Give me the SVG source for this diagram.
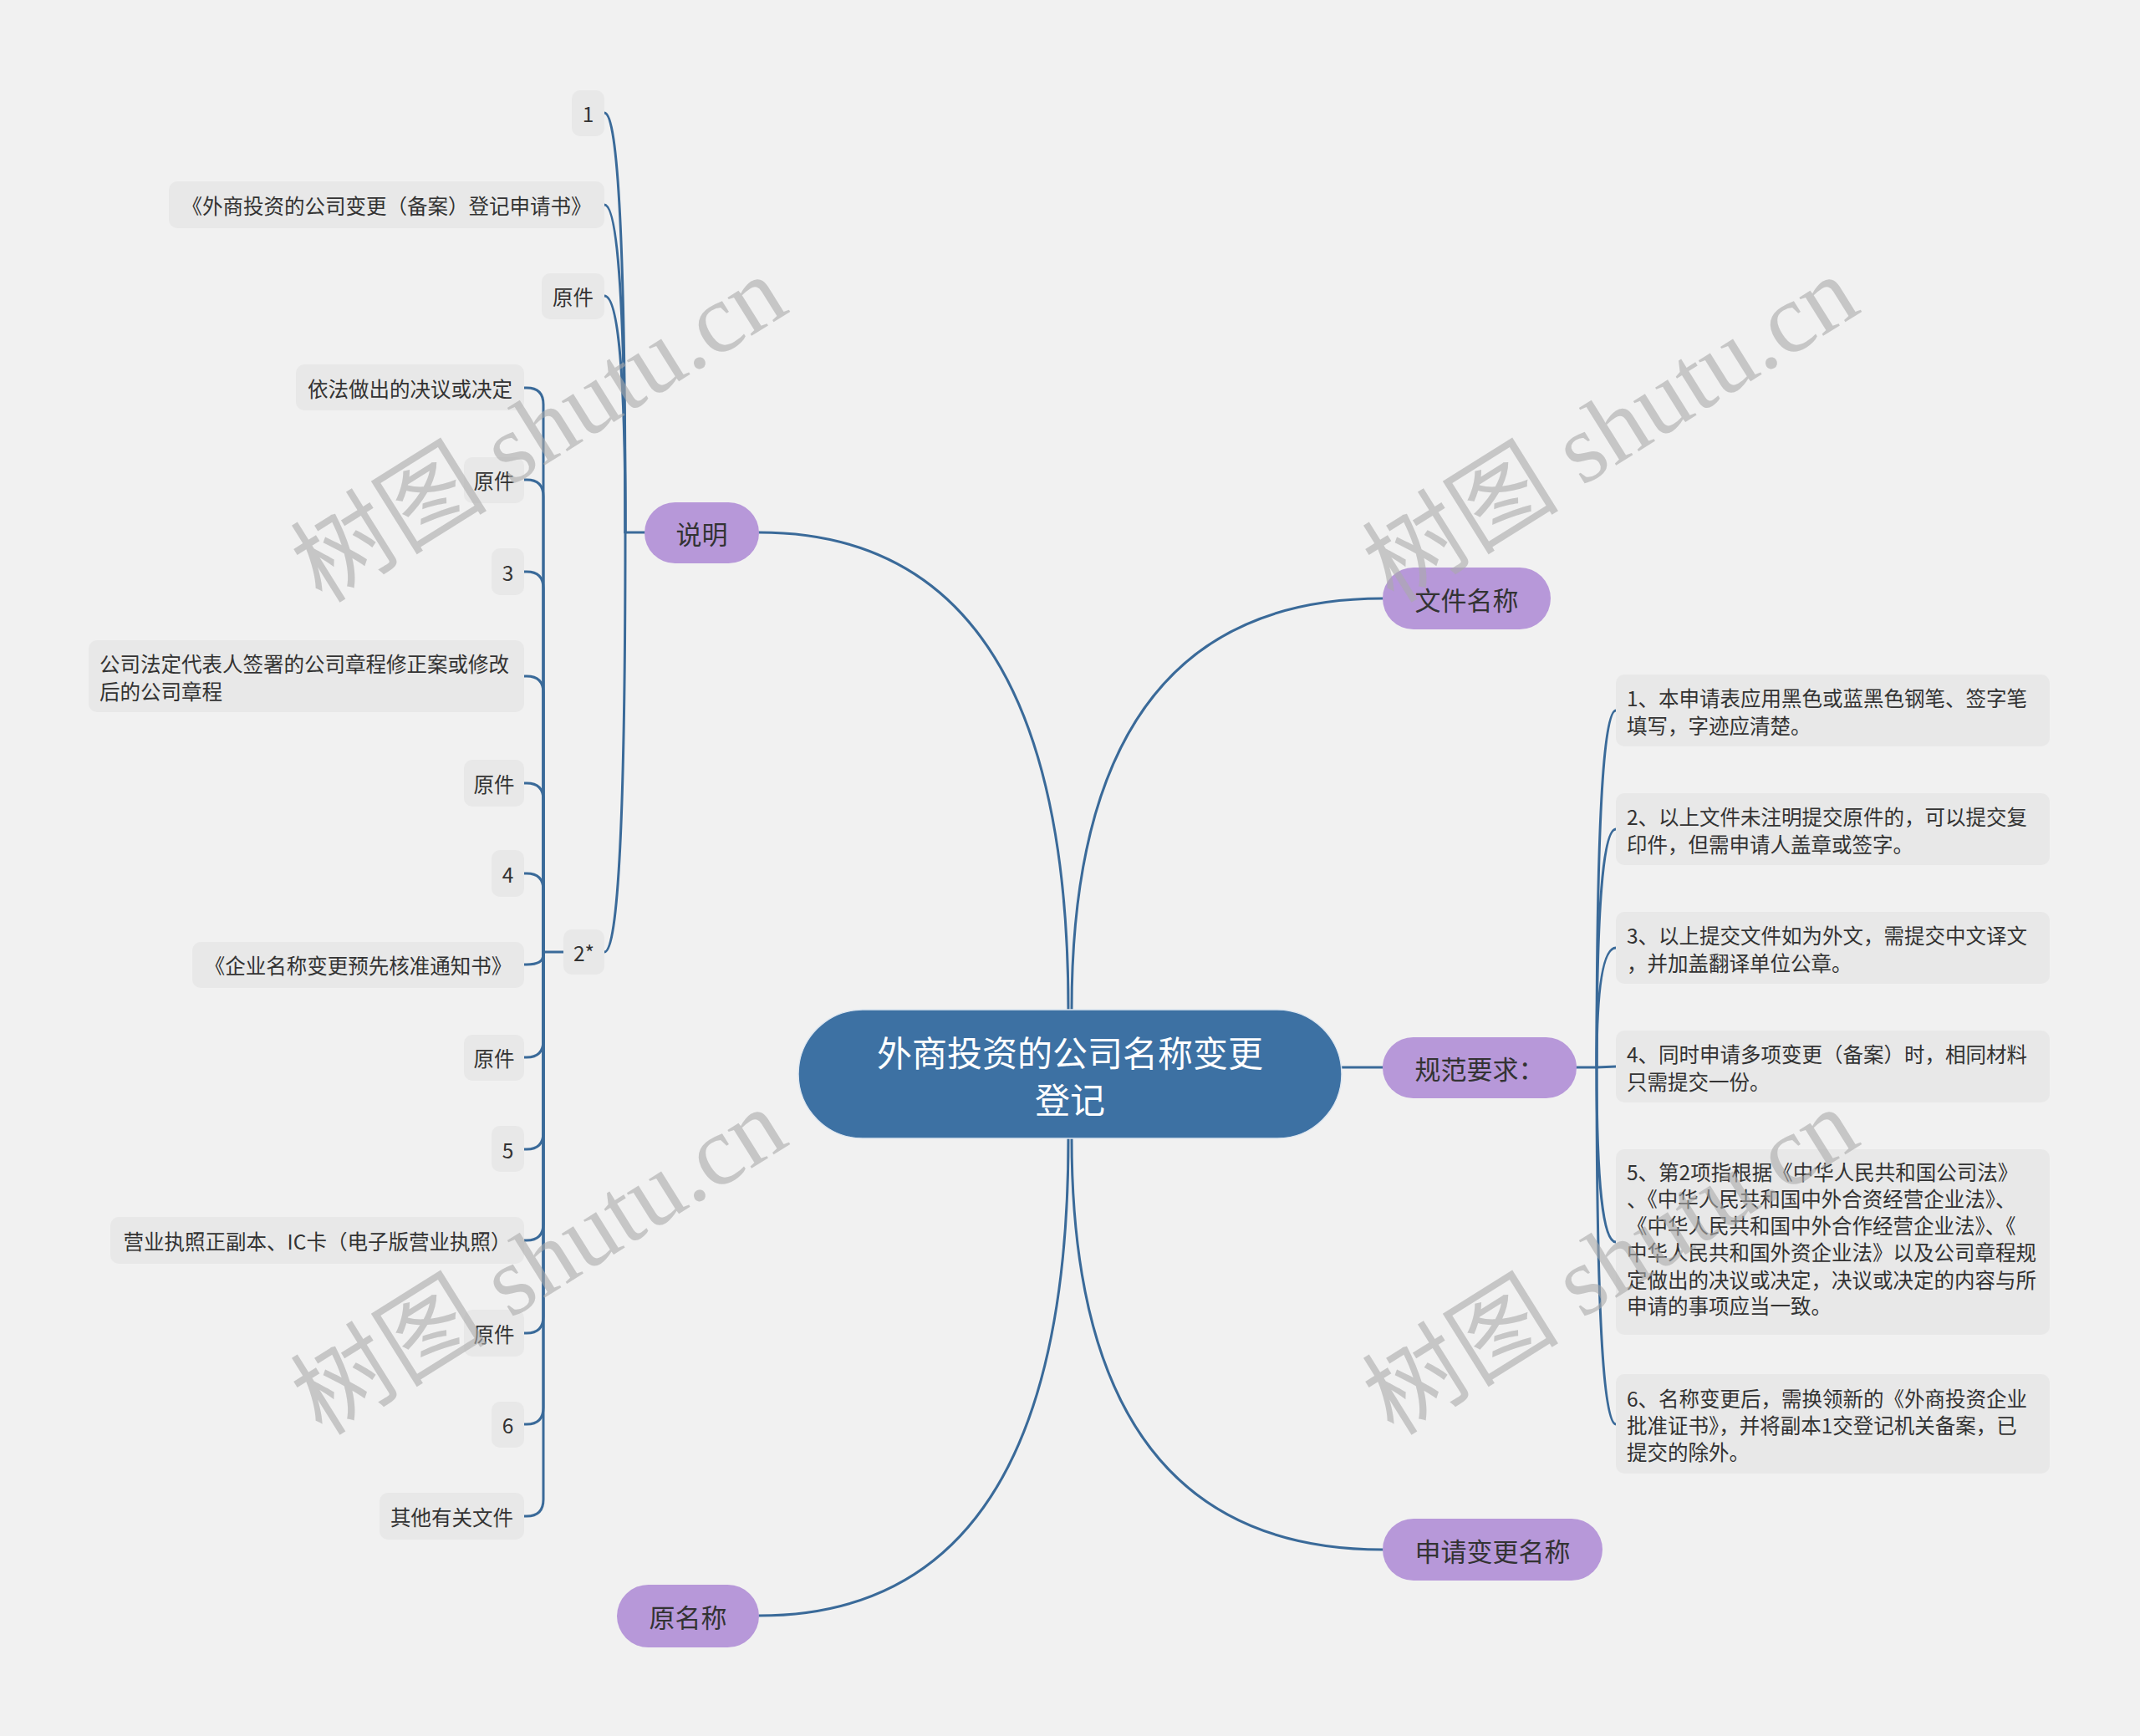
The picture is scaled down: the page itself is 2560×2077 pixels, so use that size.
<svg xmlns="http://www.w3.org/2000/svg" width="2560" height="2077" viewBox="0 0 2560 2077">
<style>
.bg{fill:#F1F1F1}
.leaf rect{fill:#E8E8E8}
.leaf text{font-family:"Noto Sans CJK SC","Liberation Sans",sans-serif;font-size:24.5px;fill:#333333;dominant-baseline:central}
.mid{text-anchor:middle}
.branch rect{fill:#B798D9}
.branch text{font-family:"Noto Sans CJK SC","Liberation Sans",sans-serif;font-size:31px;fill:#333333;text-anchor:middle;dominant-baseline:central}
.root rect{fill:#3D71A3;stroke:#DDE6F0;stroke-width:1.5}
.root text{font-family:"Noto Sans CJK SC","Liberation Sans",sans-serif;font-size:42px;fill:#FFFFFF;text-anchor:middle;dominant-baseline:central}
.conn path{fill:none;stroke:#3A6A99;stroke-width:3;stroke-linecap:round}
.wm{font-family:"Liberation Serif","Noto Sans CJK SC",serif;font-size:118px;fill:#AAAAAA;fill-opacity:0.6;text-anchor:middle;dominant-baseline:central}
</style>
<rect class="bg" x="0" y="0" width="2560" height="2077"/>
<g id="connectors" class="conn">
<path d="M1278,1208 Q1278,637 908,637"/>
<path d="M1282,1208 Q1282,716 1654,716"/>
<path d="M1605,1277 L1654,1277"/>
<path d="M1282,1362 Q1282,1854 1654,1854"/>
<path d="M1278,1362 Q1278,1933 908,1933"/>
<path d="M771,637 L748,637"/>
<path d="M748,637 Q748,135 723,135"/>
<path d="M748,637 Q748,245 723,245"/>
<path d="M748,637 Q748,354 723,354"/>
<path d="M748,637 Q748,1139 723,1139"/>
<path d="M674,1139 L650,1139"/>
<path d="M650,1139 L650,484 Q650,464 630,464 L627,464"/>
<path d="M650,1139 L650,594 Q650,574 630,574 L627,574"/>
<path d="M650,1139 L650,704 Q650,684 630,684 L627,684"/>
<path d="M650,1139 L650,829 Q650,809 630,809 L627,809"/>
<path d="M650,1139 L650,957 Q650,937 630,937 L627,937"/>
<path d="M650,1139 L650,1065 Q650,1045 630,1045 L627,1045"/>
<path d="M650,1139 L650,1142 Q650,1154 630,1154 L627,1154"/>
<path d="M650,1139 L650,1245 Q650,1265 630,1265 L627,1265"/>
<path d="M650,1139 L650,1355 Q650,1375 630,1375 L627,1375"/>
<path d="M650,1139 L650,1464 Q650,1484 630,1484 L627,1484"/>
<path d="M650,1139 L650,1575 Q650,1595 630,1595 L627,1595"/>
<path d="M650,1139 L650,1684 Q650,1704 630,1704 L627,1704"/>
<path d="M650,1139 L650,1794 Q650,1814 630,1814 L627,1814"/>
<path d="M1886,1277 L1910,1277"/>
<path d="M1910,1277 Q1910,850 1933,850"/>
<path d="M1910,1277 Q1910,992 1933,992"/>
<path d="M1910,1277 Q1910,1134 1933,1134"/>
<path d="M1910,1277 L1933,1276"/>
<path d="M1910,1277 Q1910,1486 1933,1486"/>
<path d="M1910,1277 Q1910,1704 1933,1704"/>
</g>
<g id="root" class="root">
<rect x="955" y="1208" width="650" height="154" rx="77"/>
<text x="1280" y="1257">外商投资的公司名称变更</text>
<text x="1280" y="1313">登记</text>
</g>
<g id="b-shuoming" class="branch"><rect x="771" y="601" width="137" height="73" rx="36.5"/><text x="839.5" y="637">说明</text></g>
<g id="b-wenjian" class="branch"><rect x="1654" y="679" width="201" height="74" rx="37"/><text x="1754.5" y="716">文件名称</text></g>
<g id="b-guifan" class="branch"><rect x="1654" y="1241" width="232" height="73" rx="36.5"/><text x="1770" y="1277">规范要求：</text></g>
<g id="b-shenqing" class="branch"><rect x="1654" y="1817" width="263" height="74" rx="37"/><text x="1785.5" y="1854">申请变更名称</text></g>
<g id="b-yuan" class="branch"><rect x="738" y="1896" width="170" height="75" rx="37.5"/><text x="823" y="1933">原名称</text></g>
<g id="l1" class="leaf"><rect x="684" y="108" width="39" height="55" rx="10"/><text class="mid" x="703.5" y="135">1</text></g>
<g id="l2" class="leaf"><rect x="202" y="217" width="521" height="56" rx="10"/><text class="mid" x="462.5" y="245">《外商投资的公司变更（备案）登记申请书》</text></g>
<g id="l3" class="leaf"><rect x="648" y="327" width="75" height="55" rx="10"/><text class="mid" x="685.5" y="354">原件</text></g>
<g id="l4" class="leaf"><rect x="674" y="1112" width="49" height="54" rx="10"/><text class="mid" x="698.5" y="1139">2*</text></g>
<g id="c1" class="leaf"><rect x="354" y="436" width="273" height="55" rx="10"/><text class="mid" x="490.5" y="464">依法做出的决议或决定</text></g>
<g id="c2" class="leaf"><rect x="555" y="547" width="72" height="55" rx="10"/><text class="mid" x="591" y="574">原件</text></g>
<g id="c3" class="leaf"><rect x="588" y="656" width="39" height="56" rx="10"/><text class="mid" x="607.5" y="684">3</text></g>
<g id="c4" class="leaf"><rect x="106" y="766" width="521" height="86" rx="10"/><text x="119" y="793">公司法定代表人签署的公司章程修正案或修改</text><text x="119" y="826">后的公司章程</text></g>
<g id="c5" class="leaf"><rect x="555" y="909" width="72" height="56" rx="10"/><text class="mid" x="591" y="937">原件</text></g>
<g id="c6" class="leaf"><rect x="588" y="1017" width="39" height="56" rx="10"/><text class="mid" x="607.5" y="1045">4</text></g>
<g id="c7" class="leaf"><rect x="230" y="1127" width="397" height="55" rx="10"/><text class="mid" x="428.5" y="1154">《企业名称变更预先核准通知书》</text></g>
<g id="c8" class="leaf"><rect x="555" y="1238" width="72" height="55" rx="10"/><text class="mid" x="591" y="1265">原件</text></g>
<g id="c9" class="leaf"><rect x="588" y="1347" width="39" height="55" rx="10"/><text class="mid" x="607.5" y="1375">5</text></g>
<g id="c10" class="leaf"><rect x="132" y="1456" width="495" height="56" rx="10"/><text class="mid" x="379.5" y="1484">营业执照正副本、IC卡（电子版营业执照）</text></g>
<g id="c11" class="leaf"><rect x="555" y="1567" width="72" height="56" rx="10"/><text class="mid" x="591" y="1595">原件</text></g>
<g id="c12" class="leaf"><rect x="588" y="1677" width="39" height="55" rx="10"/><text class="mid" x="607.5" y="1704">6</text></g>
<g id="c13" class="leaf"><rect x="454" y="1786" width="173" height="56" rx="10"/><text class="mid" x="540.5" y="1814">其他有关文件</text></g>
<g id="r1" class="leaf"><rect x="1933" y="807" width="519" height="86" rx="10"/><text x="1946" y="834">1、本申请表应用黑色或蓝黑色钢笔、签字笔</text><text x="1946" y="867">填写，字迹应清楚。</text></g>
<g id="r2" class="leaf"><rect x="1933" y="949" width="519" height="86" rx="10"/><text x="1946" y="976">2、以上文件未注明提交原件的，可以提交复</text><text x="1946" y="1009">印件，但需申请人盖章或签字。</text></g>
<g id="r3" class="leaf"><rect x="1933" y="1091" width="519" height="86" rx="10"/><text x="1946" y="1118">3、以上提交文件如为外文，需提交中文译文</text><text x="1946" y="1151">，并加盖翻译单位公章。</text></g>
<g id="r4" class="leaf"><rect x="1933" y="1233" width="519" height="86" rx="10"/><text x="1946" y="1260">4、同时申请多项变更（备案）时，相同材料</text><text x="1946" y="1293">只需提交一份。</text></g>
<g id="r5" class="leaf"><rect x="1933" y="1375" width="519" height="222" rx="10"/><text x="1946" y="1401">5、第2项指根据《中华人民共和国公司法》</text><text x="1946" y="1433">、《中华人民共和国中外合资经营企业法》、</text><text x="1946" y="1465">《中华人民共和国中外合作经营企业法》、《</text><text x="1946" y="1497">中华人民共和国外资企业法》以及公司章程规</text><text x="1946" y="1530">定做出的决议或决定，决议或决定的内容与所</text><text x="1946" y="1561">申请的事项应当一致。</text></g>
<g id="r6" class="leaf"><rect x="1933" y="1644" width="519" height="119" rx="10"/><text x="1946" y="1672">6、名称变更后，需换领新的《外商投资企业</text><text x="1946" y="1704">批准证书》，并将副本1交登记机关备案，已</text><text x="1946" y="1736">提交的除外。</text></g>
<g id="watermarks">
<text class="wm" x="645" y="514" transform="rotate(-32 645 514)">树图 shutu.cn</text>
<text class="wm" x="1927" y="514" transform="rotate(-32 1927 514)">树图 shutu.cn</text>
<text class="wm" x="645" y="1510" transform="rotate(-32 645 1510)">树图 shutu.cn</text>
<text class="wm" x="1927" y="1510" transform="rotate(-32 1927 1510)">树图 shutu.cn</text>
</g>
</svg>
